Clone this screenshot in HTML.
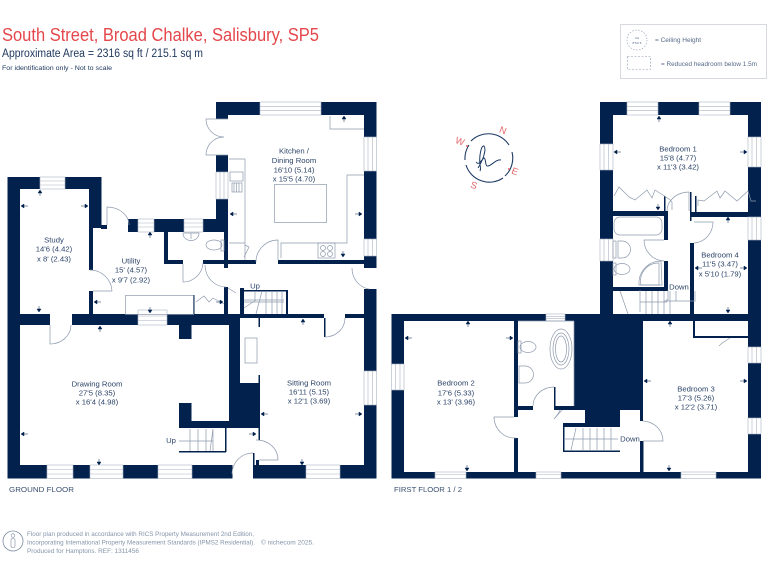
<!DOCTYPE html>
<html lang="en"><head><meta charset="utf-8"><title>South Street floor plan</title>
<style>
html,body{margin:0;padding:0;background:#fff}
svg{display:block;filter:blur(.3px)}
text{font-family:"Liberation Sans",sans-serif}
.r text{font-size:7.7px;fill:#2c4468;text-anchor:middle}
.w rect{fill:#02214d}
.g{fill:none;stroke:#8d9aad;stroke-width:.7}
.win{fill:#fff;stroke:#a9b4c3;stroke-width:.6}
.a path{fill:#02214d;stroke:#02214d;stroke-width:.5}
</style></head><body>
<svg width="768" height="576" viewBox="0 0 768 576" xmlns="http://www.w3.org/2000/svg">
<rect width="768" height="576" fill="#fff"/>
<text x="2" y="41" font-size="18.800" fill="#e4474b" textLength="317" lengthAdjust="spacingAndGlyphs">South Street, Broad Chalke, Salisbury, SP5</text>
<text x="2" y="57" font-size="11.500" fill="#20395f" textLength="201" lengthAdjust="spacingAndGlyphs">Approximate Area = 2316 sq ft / 215.1 sq m</text>
<text x="2" y="70" font-size="6.600" fill="#20395f" textLength="110" lengthAdjust="spacingAndGlyphs">For identification only - Not to scale</text>

<!-- legend -->
<rect x="620.500" y="24.500" width="146" height="54" fill="#fff" stroke="#ccd1d8" stroke-width=".8"/>
<circle cx="637" cy="40" r="10" fill="none" stroke="#8d9aad" stroke-width=".6" stroke-dasharray="1.500 1.500"/>
<text x="637" y="39" font-size="3" fill="#596d8a" text-anchor="middle">CH</text>
<text x="637" y="44" font-size="3" fill="#596d8a" text-anchor="middle">8'5/2.6</text>
<rect x="627.500" y="56.500" width="23" height="13" fill="none" stroke="#8d9aad" stroke-width=".6" stroke-dasharray="2 1.500"/>
<text x="655" y="42" font-size="6.500" fill="#566a88">= Ceiling Height</text>
<text x="661" y="66" font-size="6.500" fill="#566a88" textLength="96" lengthAdjust="spacingAndGlyphs">= Reduced headroom below 1.5m</text>

<!-- GROUND FLOOR walls -->
<g class="w">
<rect x="216" y="102" width="160.500" height="13"/>
<rect x="216" y="102" width="12" height="17"/>
<rect x="364" y="102" width="12.500" height="35"/>
<rect x="364" y="171" width="12.500" height="68"/>
<rect x="364" y="256" width="12.500" height="12"/>
<rect x="216" y="155" width="12" height="17"/>
<rect x="216" y="199" width="12" height="33"/>
<rect x="128" y="219" width="100" height="13"/>
<rect x="224" y="232" width="4" height="36"/>
<rect x="203" y="260" width="53" height="4"/>
<rect x="278" y="260" width="92" height="4"/>
<rect x="164" y="232" width="4" height="32"/>
<rect x="164" y="260" width="19" height="4"/>
<rect x="7.500" y="177" width="94" height="12"/>
<rect x="7.500" y="177" width="12.500" height="301.500"/>
<rect x="89" y="177" width="12.500" height="51"/>
<rect x="101" y="225" width="6" height="4"/>
<rect x="89" y="228" width="4" height="42"/>
<rect x="89" y="291" width="4" height="24"/>
<rect x="7.500" y="314" width="42.500" height="11"/>
<rect x="72" y="314" width="66" height="11"/>
<rect x="167" y="314" width="73" height="11"/>
<rect x="240" y="314" width="84" height="4"/>
<rect x="345" y="314" width="19" height="4"/>
<rect x="229" y="314" width="11" height="114"/>
<rect x="229" y="383" width="30" height="45"/>
<rect x="179" y="325" width="12.500" height="14"/>
<rect x="179" y="403" width="12.500" height="25"/>
<rect x="179" y="421" width="50" height="7"/>
<rect x="225" y="428" width="1.500" height="24"/>
<rect x="179" y="451" width="47" height="1.500"/>
<rect x="258.500" y="375" width="1.500" height="65"/>
<rect x="258.500" y="318" width="1.500" height="9"/>
<rect x="7.500" y="465" width="225" height="13.500"/>
<rect x="253" y="465" width="123.500" height="13.500"/>
<rect x="253" y="453" width="1.500" height="13"/>
<rect x="256" y="460" width="3" height="6"/>
<rect x="364" y="289" width="12.500" height="82"/>
<rect x="364" y="405" width="12.500" height="73.500"/>
<rect x="224" y="287" width="4" height="27"/>
<rect x="240" y="288" width="4" height="26"/>
<rect x="193" y="295" width="1.500" height="19"/>
<rect x="244" y="290" width="44" height="1.500"/>
<rect x="286" y="290" width="2" height="24"/>
<rect x="324" y="318" width="1.500" height="19"/>
</g>
<!-- GF windows -->
<g class="win">
<rect x="260" y="102" width="61" height="13"/><path d="M260 106.300h61M260 110.600h61"/>
<rect x="364" y="137" width="12.500" height="34"/><path d="M368 137v34M372.500 137v34"/>
<rect x="364" y="239" width="12.500" height="17"/><path d="M368 239v17M372.500 239v17"/>
<rect x="216" y="172" width="12" height="27"/><path d="M220 172v27M224 172v27"/>
<rect x="138" y="219" width="16" height="13"/><path d="M138 223h16M138 227h16"/>
<rect x="184" y="219" width="19" height="13"/><path d="M184 223h19M184 227h19"/>
<rect x="40" y="177" width="25" height="12"/><path d="M40 181h25M40 185h25"/>
<rect x="138" y="310" width="29" height="15"/><path d="M138 316h29M138 320.500h29"/>
<rect x="47" y="465" width="26" height="13.500"/><path d="M47 469.500h26M47 474h26"/>
<rect x="90" y="465" width="33" height="13.500"/><path d="M90 469.500h33M90 474h33"/>
<rect x="158" y="465" width="34" height="13.500"/><path d="M158 469.500h34M158 474h34"/>
<rect x="306" y="465" width="34" height="13.500"/><path d="M306 469.500h34M306 474h34"/>
<rect x="364" y="371" width="12.500" height="34"/><path d="M368 371v34M372.500 371v34"/>
</g>
<!-- GF fixtures and doors -->
<g class="g">
<rect x="274.500" y="184.500" width="52" height="38"/>
<path d="M229 159h16v101M229 243h16M330 116v13h34M364 175h-17v68h-66v15"/>
<rect x="318" y="243" width="17" height="15"/><circle cx="323" cy="248" r="2.500"/><circle cx="330" cy="248" r="2.500"/><circle cx="323" cy="254" r="2.500"/><circle cx="330" cy="254" r="2.500"/>
<rect x="230" y="172" width="13" height="9"/><rect x="232" y="183" width="10" height="9"/><path d="M234 183v9M236.500 183v9M239 183v9"/>
<path d="M183 233c0 10 16 10 16 0z" /><path d="M191 233v6"/>
<ellipse cx="214" cy="245" rx="8" ry="5"/><rect x="221" y="240" width="3" height="11"/>
<path d="M245 245l4 2-5 10"/>
<rect x="245" y="338" width="12" height="25"/>
<rect x="125.500" y="295.500" width="68" height="19"/>
<path d="M228 119H206A18 18 0 0 0 224 137A18 18 0 0 0 206 155H228"/>
<path d="M107 225V207A22 18 0 0 1 129 225"/>
<path d="M90 270A22 22 0 0 1 112 291H93"/>
<path d="M183 282V264M183 282A20 20 0 0 0 203 263"/>
<path d="M278 260V240A22 22 0 0 0 256 262"/>
<path d="M205 265A21 22 0 0 0 226 287"/>
<path d="M352 268A20 21 0 0 0 369 289"/>
<path d="M50 325V344A21 19 0 0 0 71 325"/>
<path d="M325 337A20 19 0 0 0 345 318"/>
<path d="M232 474A21 21 0 0 1 253 453"/>
<path d="M256 440A21 20 0 0 1 278 460H259"/>
<path d="M196 302l8-6 5 6 4-4 11 6M228 288l8 5"/>
<!-- stairs GF -->
<path d="M244 300h40M255 291v9M244 302h40M266 291v23M272 291v23M277 291v23M282 291v23M256 300l-12 8M262 291l-6 23"/>
<path d="M179 441h34M190 429v22M198 429v22M206 429v22M213 429v22M213 429l-3 22"/>
</g>

<!-- FIRST FLOOR walls -->
<g class="w">
<rect x="600" y="102" width="161" height="13"/>
<rect x="600" y="102" width="13" height="42"/>
<rect x="600" y="170" width="13" height="69"/>
<rect x="600" y="261" width="13" height="60"/>
<rect x="748" y="102" width="13" height="35"/>
<rect x="748" y="167" width="13" height="50"/>
<rect x="748" y="240" width="13" height="107"/>
<rect x="748" y="363" width="13" height="55"/>
<rect x="748" y="434" width="13" height="44.500"/>
<rect x="613" y="211" width="55" height="5"/>
<rect x="690" y="212" width="58" height="5"/>
<rect x="664" y="216" width="4" height="24"/>
<rect x="664" y="261" width="4" height="30"/>
<rect x="613" y="287" width="55" height="4"/>
<rect x="690" y="243" width="4" height="71"/>
<rect x="690" y="192" width="1.500" height="29"/>
<rect x="695" y="196" width="1.500" height="16"/>
<rect x="664" y="196" width="1.500" height="16"/>
<rect x="391.500" y="314" width="369.500" height="7"/>
<rect x="391.500" y="314" width="12.500" height="164.500"/>
<rect x="391.500" y="472" width="369.500" height="6.500"/>
<rect x="514" y="321" width="4" height="96"/>
<rect x="514" y="438" width="4" height="34"/>
<rect x="518" y="406" width="15" height="4"/>
<rect x="554" y="406" width="20" height="4"/>
<rect x="554" y="387" width="1.500" height="19"/>
<rect x="574" y="321" width="69" height="89"/>
<rect x="585" y="400" width="35" height="27"/>
<rect x="564" y="423" width="56" height="4"/>
<rect x="640" y="400" width="3" height="21"/>
<rect x="640" y="441" width="3.500" height="31"/>
<rect x="563" y="423" width="1.500" height="29"/>
<rect x="563" y="450.500" width="57" height="1.500"/>
<rect x="693" y="321" width="2" height="17"/>
<rect x="693" y="336" width="55" height="2"/>
</g>
<g class="win">
<rect x="627" y="102" width="31" height="13"/><path d="M627 106.300h31M627 110.600h31"/>
<rect x="699" y="102" width="31" height="13"/><path d="M699 106.300h31M699 110.600h31"/>
<rect x="600" y="144" width="13" height="26"/><path d="M604 144v26M608.500 144v26"/>
<rect x="600" y="239" width="13" height="22"/><path d="M604 239v22M608.500 239v22"/>
<rect x="748" y="137" width="13" height="30"/><path d="M752 137v30M756.500 137v30"/>
<rect x="748" y="217" width="13" height="23"/><path d="M752 217v23M756.500 217v23"/>
<rect x="748" y="347" width="13" height="16"/><path d="M752 347v16M756.500 347v16"/>
<rect x="748" y="418" width="13" height="16"/><path d="M752 418v16M756.500 418v16"/>
<rect x="391.500" y="364" width="12.500" height="26"/><path d="M395.500 364v26M400 364v26"/>
<rect x="546" y="314" width="19" height="7"/><path d="M546 316.300h19M546 318.600h19"/>
<rect x="435" y="472" width="31" height="6.500"/><path d="M435 474.500h31"/>
<rect x="536" y="472" width="25" height="6.500"/><path d="M536 474.500h25"/>
<rect x="681" y="472" width="35" height="6.500"/><path d="M681 474.500h35"/>
</g>
<g class="g">
<rect x="614" y="217" width="48" height="18" rx="6"/>
<path d="M614 196l5-9 10 10 6 3 12-10 5 8 3-8 14 9 3 3v8"/>
<path d="M698 206v-6l6 1 13-10 3 7 5-7 12 10 11-10 3 10h5"/>
<path d="M618 241h4a8 8 0 0 1 0 17h-4z"/><rect x="613" y="241" width="3" height="17"/>
<ellipse cx="622" cy="269" rx="8" ry="5.500"/><rect x="613" y="263" width="3" height="12"/>
<path d="M662 285h-23v-4a22 22 0 0 1 22-20z"/><path d="M659 285h-18a18 18 0 0 1 18-22z"/>
<path d="M668 290v10h-2M640 312v-22M646 291v23M652 291v23M658 291v23M664 291v23M670 291v23M676 291v10M640 302h27M678 301h-14M620 291l8 23M667 301h28V291"/>
<ellipse cx="561" cy="349" rx="11" ry="20"/><ellipse cx="561" cy="349" rx="8" ry="16"/><ellipse cx="561" cy="349" rx="5.500" ry="13"/>
<ellipse cx="528" cy="347" rx="8" ry="5.500"/><rect x="518" y="341" width="3" height="12"/>
<path d="M519 366h6a8 8 0 0 1 0 17h-6z"/>
<path d="M574 406V321M518 321h56"/>
<path d="M689 192V211M667 211A22 19 0 0 1 689 192"/>
<path d="M694 222h19A20 21 0 0 1 694 243"/>
<path d="M664 240h-20A21 21 0 0 0 664 261"/>
<path d="M514 417H494A21 21 0 0 0 516 438"/>
<path d="M533 406A21 19 0 0 1 554 387"/>
<path d="M643 421A21 20 0 0 1 663 441H643"/>
<path d="M719 346l3-3 8-5"/>
<path d="M560 410l-2 4-4 5 8-9"/>
<path d="M564 439h54M583 428v22M590 428v22M597 428v22M604 428v22M611 428v22M576 428l-5 22"/>
</g>

<!-- dimension arrows -->
<g class="a">
<path d="M344 116l-2 3h4zM344 119v3"/>
<path d="M362 214l-3-2v4zM359 214h-4"/><path d="M230 214l3-2v4zM233 214h4"/>
<path d="M343 257l-2-3h4zM343 254v-3"/>
<path d="M40 190l-2 3h4zM40 193v3"/><path d="M21 206l3-2v4zM24 206h4"/><path d="M88 206l-3-2v4zM85 206h-4"/><path d="M39 312l-2-3h4zM39 309v-3"/>
<path d="M150 232l-2 3h4zM150 235v3"/><path d="M94 302l3-2v4zM97 302h4"/><path d="M223 302l-3-2v4zM220 302h-4"/><path d="M150 313l-2-3h4zM150 310v-3"/>
<path d="M100 326l-2 3h4zM100 329v3"/><path d="M21 434l3-2v4zM24 434h4"/><path d="M99 465l-2-3h4zM99 462v-3"/>
<path d="M303 319l-2 3h4zM303 322v3"/><path d="M261 414l3-2v4zM264 414h4"/><path d="M362 414l-3-2v4zM359 414h-4"/><path d="M302 465l-2-3h4zM302 462v-3"/><path d="M256 434l-3-2v4zM253 434h-4"/>
<path d="M659 116l-2 3h4zM659 119v3"/><path d="M614 152l3-2v4zM617 152h4"/><path d="M747 152l-3-2v4zM744 152h-4"/><path d="M658 210l-2-3h4zM658 207v-3"/>
<path d="M728 217l-2 3h4zM728 220v3"/><path d="M695 268l3-2v4zM698 268h4"/><path d="M747 268l-3-2v4zM744 268h-4"/><path d="M728 313l-2-3h4zM728 310v-3"/>
<path d="M468 321l-2 3h4zM468 324v3"/><path d="M405 338l3-2v4zM408 338h4"/><path d="M513 338l-3-2v4zM510 338h-4"/><path d="M467 471l-2-3h4zM467 468v-3"/>
<path d="M670 321l-2 3h4zM670 324v3"/><path d="M644 381l3-2v4zM647 381h4"/><path d="M747 381l-3-2v4zM744 381h-4"/><path d="M669 471l-2-3h4zM669 468v-3"/>
</g>

<!-- labels -->
<g class="r">
<text x="294" y="153.500">Kitchen /</text><text x="294" y="163">Dining Room</text><text x="294" y="172.500">16'10 (5.14)</text><text x="294" y="181.500">x 15'5 (4.70)</text>
<text x="54" y="242.500">Study</text><text x="54" y="251.500">14'6 (4.42)</text><text x="54" y="261.500">x 8' (2.43)</text>
<text x="131" y="263.500">Utility</text><text x="131" y="272.500">15' (4.57)</text><text x="131" y="282.500">x 9'7 (2.92)</text>
<text x="97" y="386.500">Drawing Room</text><text x="97" y="395.500">27'5 (8.35)</text><text x="97" y="404.500">x 16'4 (4.98)</text>
<text x="309" y="385.500">Sitting Room</text><text x="309" y="394.500">16'11 (5.15)</text><text x="309" y="403.500">x 12'1 (3.69)</text>
<text x="678" y="151.500">Bedroom 1</text><text x="678" y="160.500">15'8 (4.77)</text><text x="678" y="169.500">x 11'3 (3.42)</text>
<text x="720" y="257.500">Bedroom 4</text><text x="720" y="266.500">11'5 (3.47)</text><text x="720" y="276.500">x 5'10 (1.79)</text>
<text x="456" y="385.500">Bedroom 2</text><text x="456" y="395.500">17'6 (5.33)</text><text x="456" y="404.500">x 13' (3.96)</text>
<text x="696" y="391.500">Bedroom 3</text><text x="696" y="400.500">17'3 (5.26)</text><text x="696" y="409.500">x 12'2 (3.71)</text>
<text x="255" y="288.500">Up</text><text x="171" y="443">Up</text>
<text x="679" y="289.500">Down</text><text x="630" y="441.500">Down</text>
</g>
<text x="9" y="492" font-size="7.600" fill="#3a5070" textLength="65" lengthAdjust="spacingAndGlyphs">GROUND FLOOR</text>
<text x="394" y="492" font-size="7.600" fill="#3a5070" textLength="68" lengthAdjust="spacingAndGlyphs">FIRST FLOOR 1 / 2</text>

<!-- compass -->
<path d="M471 141A24.500 24.500 0 0 1 509 145M512 152A24.500 24.500 0 0 1 505 176M503 178A24.500 24.500 0 0 1 466 165M465 160A24.500 24.500 0 0 1 469 145" fill="none" stroke="#1c3a63" stroke-width="1.100"/>
<path d="M478 168c4-6 9-18 6-22-3-1-5 11-4 19 1 4 0 6 0 6M476 162c3 4 5-2 8-4 2 0 1 7 3 8 4 1 8-7 14-6" fill="none" stroke="#1c3a63" stroke-width="1"/>
<circle cx="467" cy="146" r="1" fill="#e2686a"/><circle cx="509" cy="169" r="1" fill="#e2686a"/>
<g font-size="9.500" fill="#e2686a" text-anchor="middle">
<text x="503" y="133.500" transform="rotate(20 503 130)">N</text>
<text x="460" y="144.500" transform="rotate(20 460 141)">W</text>
<text x="515" y="174.500" transform="rotate(20 515 171)">E</text>
<text x="474" y="188.500" transform="rotate(20 474 185)">S</text>
</g>

<!-- footer -->
<circle cx="13" cy="541" r="10" fill="none" stroke="#7b8aa0" stroke-width=".8"/>
<circle cx="13" cy="535.500" r="1.800" fill="none" stroke="#7b8aa0" stroke-width=".6"/>
<rect x="11" y="538.500" width="4" height="9" rx="1.500" fill="none" stroke="#7b8aa0" stroke-width=".6"/>
<g font-size="6" fill="#8494a9">
<text x="27" y="536" textLength="227" lengthAdjust="spacingAndGlyphs">Floor plan produced in accordance with RICS Property Measurement 2nd Edition,</text>
<text x="27" y="544.500" textLength="228" lengthAdjust="spacingAndGlyphs">Incorporating International Property Measurement Standards (IPMS2 Residential).</text>
<text x="261" y="544.500" textLength="53" lengthAdjust="spacingAndGlyphs">© nichecom 2025.</text>
<text x="27" y="553" textLength="112" lengthAdjust="spacingAndGlyphs">Produced for Hamptons.   REF:  1311456</text>
</g>
</svg>
</body></html>
